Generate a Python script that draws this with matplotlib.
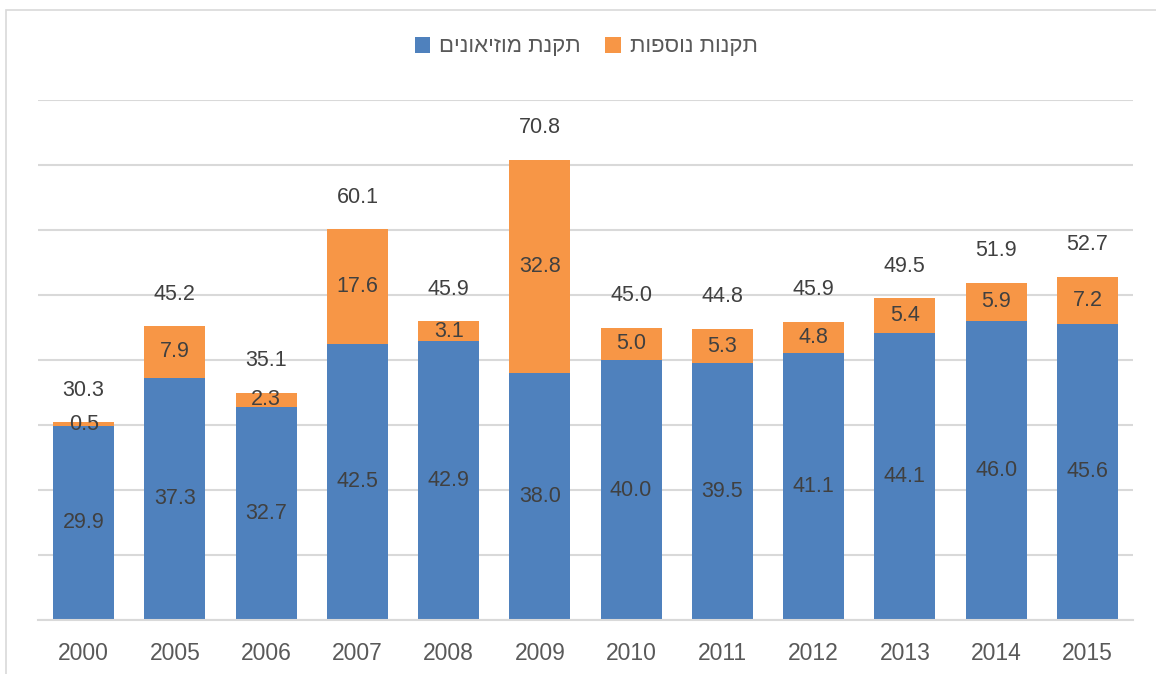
import matplotlib.pyplot as plt
from matplotlib.patches import Rectangle, Patch
import numpy as np

plt.rcParams['font.family'] = ['Liberation Sans', 'DejaVu Sans']

# --- données ---
annees = ['2000', '2005', '2006', '2007', '2008', '2009', '2010', '2011', '2012', '2013', '2014', '2015']
musees = [29.9, 37.3, 32.7, 42.5, 42.9, 38.0, 40.0, 39.5, 41.1, 44.1, 46.0, 45.6]
autres = [0.5, 7.9, 2.3, 17.6, 3.1, 32.8, 5.0, 5.3, 4.8, 5.4, 5.9, 7.2]
totaux = [30.3, 45.2, 35.1, 60.1, 45.9, 70.8, 45.0, 44.8, 45.9, 49.5, 51.9, 52.7]
nom_musees = 'תקנת מוזיאונים'
nom_autres = 'תקנות נוספות'

BLEU = '#4F81BD'
ORANGE = '#F79646'
GRIS_TEXTE = '#404040'
GRIS_AXE = '#595959'
GRIS_GRILLE = '#D9D9D9'


def heb(s):
    # matplotlib n'applique pas le bidi : on inverse l'ordre des caractères
    return s[::-1]


fig = plt.figure(figsize=(11.56, 6.74), dpi=100)
ax = fig.add_axes([38 / 1156, 54 / 674, 1095 / 1156, 520 / 674])

# cadre gris autour du graphique
fig.patches.append(Rectangle((6 / 1156, -0.1), 1.2, 1.1 - 10 / 674, transform=fig.transFigure,
                             fill=False, edgecolor=GRIS_GRILLE, linewidth=1.2, zorder=0))

x = np.arange(len(annees))
largeur = 0.67
ax.bar(x, musees, largeur, color=BLEU, zorder=2)
ax.bar(x, autres, largeur, bottom=musees, color=ORANGE, zorder=2)

for i in range(len(annees)):
    ax.text(x[i], musees[i] / 2, f"{musees[i]:.1f}", ha='center', va='center', fontsize=15.5, color=GRIS_TEXTE, zorder=3)
    ax.text(x[i], musees[i] + autres[i] / 2, f"{autres[i]:.1f}", ha='center', va='center', fontsize=15.5,
            color=GRIS_TEXTE, zorder=3)
    ax.annotate(f"{totaux[i]:.1f}", (x[i], musees[i] + autres[i]), xytext=(0, 23), textcoords='offset points',
                ha='center', va='center', fontsize=15.5, color=GRIS_TEXTE)

ax.set_xlim(-0.5, 11.5)
ax.set_ylim(0, 80)
ax.set_yticks(np.arange(0, 81, 10))
ax.set_yticklabels([])
ax.set_xticks(x)
ax.set_xticklabels(annees)
ax.tick_params(axis='x', length=0, pad=16, labelsize=16.5, labelcolor=GRIS_AXE)
ax.tick_params(axis='y', length=0)
ax.grid(axis='y', color=GRIS_GRILLE, linewidth=1.5, zorder=0)
ax.set_axisbelow(True)
for cote in ['top', 'left', 'right']:
    ax.spines[cote].set_visible(False)
ax.spines['bottom'].set_color(GRIS_GRILLE)
ax.spines['bottom'].set_linewidth(1.5)

poignees = [Patch(facecolor=BLEU), Patch(facecolor=ORANGE)]
fig.legend(poignees, [heb(nom_musees), heb(nom_autres)], loc='center', bbox_to_anchor=(0.507, 1 - 47 / 674),
           ncol=2, frameon=False, fontsize=16, handlelength=0.7, handleheight=0.7, handletextpad=0.4,
           columnspacing=1.1, labelcolor=GRIS_AXE)

plt.savefig('out.png', dpi=100)
